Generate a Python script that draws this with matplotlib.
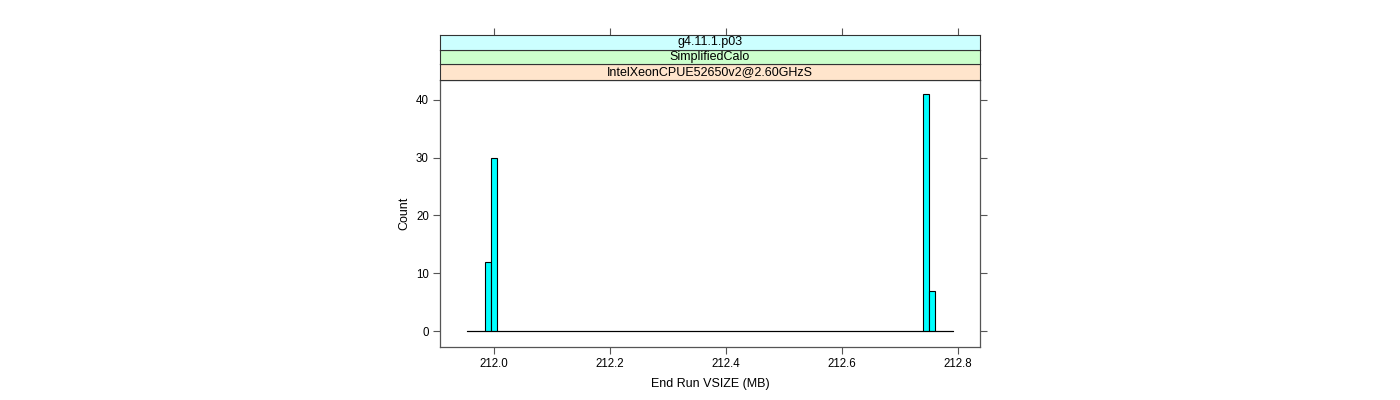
import numpy as np
import matplotlib.pyplot as plt

# histogram data (lattice style, 80 equal bins)
bin_start = 211.9535
bin_end = 212.7915
n_bins = 80
filled_bins = [3, 4, 75, 76]
filled_counts = [12, 30, 41, 7]

strip_labels = ["IntelXeonCPUE52650v2@2.60GHzS", "SimplifiedCalo", "g4.11.1.p03"]
strip_colors = ["#FFE5CC", "#CCFFCC", "#CCFFFF"]

x_ticks = [212.0, 212.2, 212.4, 212.6, 212.8]
y_ticks = [0, 10, 20, 30, 40]

plt.rcParams['font.family'] = ['Liberation Sans', 'DejaVu Sans']
plt.rcParams['font.size'] = 8.3

edges = np.linspace(bin_start, bin_end, n_bins + 1)
counts = np.zeros(n_bins)
counts[filled_bins] = filled_counts

fig = plt.figure(figsize=(14, 4), dpi=100)
W, H = 1400.0, 400.0
left, right = 440 / W, 980 / W
ax = fig.add_axes([left, 1 - 347 / H, right - left, (347 - 80) / H])

box_col = "#555555"
ax.bar(edges[:-1], counts, width=np.diff(edges), align='edge',
       color="#00FFFF", edgecolor="black", linewidth=0.8)
ax.plot([edges[0], edges[-1]], [0, 0], color="black", linewidth=0.8)

ax.set_xlim(211.907, 212.838)
ax.set_ylim(-2.77, 43.46)
ax.set_xticks(x_ticks)
ax.set_xticklabels(["%.1f" % t for t in x_ticks])
ax.set_yticks(y_ticks)
ax.tick_params(direction='out', length=5, width=0.8, color=box_col,
               right=True, top=False, pad=3)
for s in ax.spines.values():
    s.set_color(box_col)
    s.set_linewidth(0.9)
ax.set_xlabel("End Run VSIZE (MB)", fontsize=9, labelpad=6)
ax.set_ylabel("Count", fontsize=9, labelpad=4)

# strips above panel
strip_bounds = [(64.4, 80), (49.6, 64.4), (34.5, 49.6)]
for i, (lab, col) in enumerate(zip(strip_labels, strip_colors)):
    top, bot = strip_bounds[i]
    sax = fig.add_axes([left, 1 - bot / H, right - left, (bot - top) / H], sharex=ax)
    sax.set_facecolor(col)
    sax.set_ylim(0, 1)
    sax.set_yticks([])
    sax.text(0.5, 0.5, lab, transform=sax.transAxes, ha='center', va='center',
             fontsize=9)
    for s in sax.spines.values():
        s.set_color("#333333")
        s.set_linewidth(0.8)
    if i == len(strip_labels) - 1:
        sax.tick_params(axis='x', direction='out', length=5, width=0.8, color=box_col,
                        top=True, bottom=False, labeltop=False, labelbottom=False)
    else:
        sax.tick_params(axis='x', bottom=False, top=False,
                        labelbottom=False, labeltop=False)

fig.savefig("out.png", dpi=100)
